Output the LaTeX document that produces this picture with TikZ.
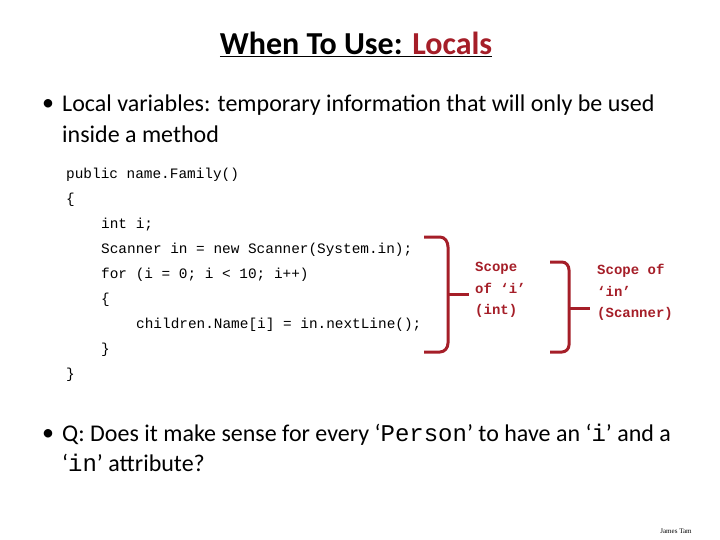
\documentclass[tikz,border=0pt]{standalone}
\usepackage{fontspec}
\setmainfont{Carlito}
\setmonofont{Liberation Mono}
\newfontfamily\ftfont{Liberation Serif}
\definecolor{dred}{RGB}{165,30,40}
\begin{document}
\begin{tikzpicture}[x=1pt,y=-1pt,
 code/.style={anchor=west,inner sep=0,font=\fontsize{14.4}{16}\ttfamily},
 body/.style={anchor=west,inner sep=0,font=\fontsize{24}{28}\selectfont},
 lab/.style={anchor=north west,inner sep=0,align=left,text=dred,font=\fontsize{14}{21.5}\bfseries\ttfamily},
 brk/.style={draw=dred,line width=3pt}]
\useasboundingbox (0,0) rectangle (720,540);
\node (title) at (356,44) [inner sep=0,font=\fontsize{32}{36}\bfseries\selectfont] {\underline{When To Use: \textcolor{dred}{Locals}}};
\node (b1) at (42,105) [body] {•};
\node (t1) at (62,105) [body] {Local variables: temporary information that will only be used};
\node (t1b) at (62,134) [body] {inside a method};
\node (c1) at (66,175) [code] {public name.Family()};
\node (c2) at (66,200) [code] {\{};
\node (c3) at (101,225) [code] {int i;};
\node (c4) at (101,250) [code] {Scanner in = new Scanner(System.in);};
\node (c5) at (101,275) [code] {for (i = 0; i < 10; i++)};
\node (c6) at (101,300) [code] {\{};
\node (c7) at (136,325) [code] {children.Name[i] = in.nextLine();};
\node (c8) at (101,350) [code] {\}};
\node (c9) at (66,375) [code] {\}};
\draw[brk] (424,237) -- (440,237) to[out=0,in=90] (448,247) -- (448,343) to[out=-90,in=0] (440,352) -- (424,352);
\coordinate (m1) at (448,294);
\coordinate (e1) at (469,294);
\draw[brk] (m1) -- (e1);
\node (l1) at (475,262) [lab] {Scope\\of ‘i’\\(int)};
\draw[brk] (550,262) -- (562,262) to[out=0,in=90] (569,270) -- (569,345) to[out=-90,in=0] (562,352) -- (550,352);
\coordinate (m2) at (569,308);
\coordinate (e2) at (590,308);
\draw[brk] (m2) -- (e2);
\node (l2) at (597,264) [lab] {Scope of\\‘in’\\(Scanner)};
\node (b2) at (42,435) [body] {•};
\node (t2) at (62,435) [body] {Q: Does it make sense for every ‘{\ttfamily Person}’ to have an ‘{\ttfamily i}’ and a};
\node (t2b) at (62,463) [body] {‘{\ttfamily in}’ attribute?};
\node (ft) at (676,531) [inner sep=0,font=\fontsize{7}{8}\ftfont] {James Tam};
\end{tikzpicture}
\end{document}
